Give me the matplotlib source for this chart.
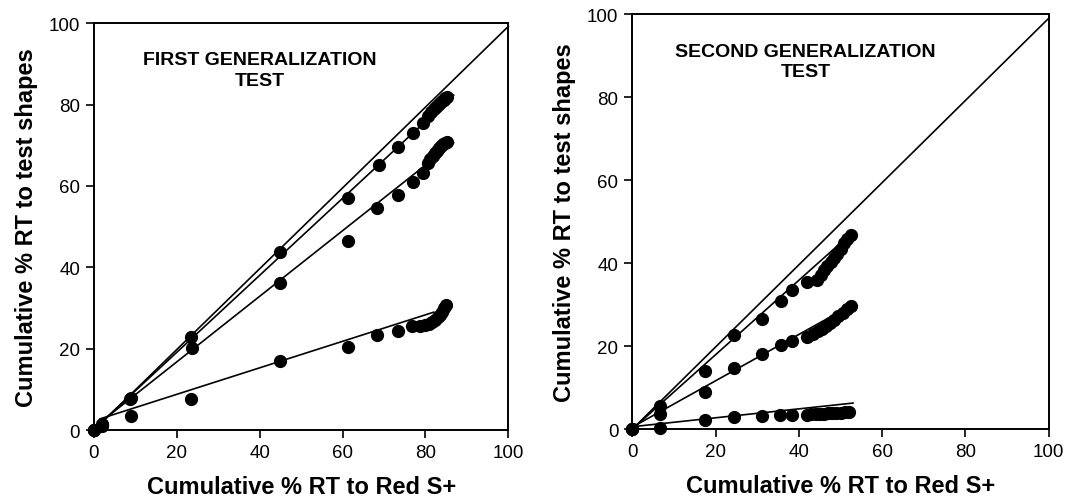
import matplotlib
matplotlib.use("Agg")
import matplotlib.pyplot as plt

plt.rcParams['font.family'] = ['Liberation Sans', 'DejaVu Sans']

# first generalization test (left panel)
x_top1 = [0, 1.9, 8.9, 23.4, 44.9, 61.4, 68.7, 73.3, 76.9, 79.3, 80.6, 81.3, 82.0, 82.6, 83.1, 83.6, 84.0, 84.4, 84.8, 85.2]
y_top1 = [0, 1.5, 8.0, 23.0, 43.8, 57.1, 65.1, 69.6, 72.9, 75.5, 77.3, 78.1, 78.8, 79.4, 79.9, 80.4, 80.8, 81.2, 81.5, 81.8]
x_mid1 = [0, 1.9, 8.7, 23.6, 44.9, 61.4, 68.4, 73.3, 76.9, 79.3, 80.6, 81.2, 81.8, 82.3, 82.8, 83.3, 83.8, 84.3, 84.8, 85.2]
y_mid1 = [0, 1.2, 7.6, 20.3, 36.1, 46.5, 54.7, 57.7, 61.0, 63.1, 65.6, 66.5, 67.3, 68.0, 68.6, 69.2, 69.7, 70.2, 70.6, 70.9]
x_low1 = [0, 1.9, 8.9, 23.4, 44.9, 61.2, 68.3, 73.3, 76.7, 78.6, 79.8, 80.8, 81.6, 82.3, 82.9, 83.5, 84.0, 84.5, 84.9]
y_low1 = [0, 1.0, 3.4, 7.6, 17.0, 20.5, 23.3, 24.4, 25.6, 25.7, 25.9, 26.2, 26.6, 27.1, 27.7, 28.4, 29.1, 29.9, 30.7]

# fitted lines, left panel
diag1_x, diag1_y = [0, 100], [0, 99.2]
fit_top1_x, fit_top1_y = [1.0, 86.8], [1.2, 82.3]
fit_mid1_x, fit_mid1_y = [1.0, 86.8], [1.5, 70.6]
fit_low1_x, fit_low1_y = [1.5, 82.0], [2.8, 29.0]

# second generalization test (right panel)
x_top2 = [0, 6.7, 17.5, 24.4, 31.2, 35.6, 38.4, 42.0, 44.4, 45.4, 46.0, 46.8, 47.6, 48.4, 49.2, 50.0, 50.8, 51.6, 52.4]
y_top2 = [0, 5.5, 14.1, 22.6, 26.6, 30.8, 33.5, 35.5, 35.9, 37.2, 38.3, 39.3, 40.2, 41.2, 42.3, 43.5, 44.8, 45.9, 46.8]
x_mid2 = [0, 6.7, 17.5, 24.4, 31.2, 35.6, 38.4, 42.0, 43.5, 44.5, 45.5, 46.5, 47.5, 48.5, 49.5, 50.5, 51.5, 52.4]
y_mid2 = [0, 3.6, 9.0, 14.7, 18.1, 20.2, 21.2, 22.2, 23.0, 23.6, 24.2, 24.9, 25.6, 26.4, 27.3, 28.1, 29.0, 29.7]
x_low2 = [0, 6.7, 17.5, 24.4, 31.2, 35.4, 38.4, 42.0, 43.0, 44.0, 45.0, 46.0, 47.0, 48.0, 49.0, 50.0, 51.0, 52.0]
y_low2 = [0, 0.4, 2.2, 3.0, 3.2, 3.4, 3.4, 3.5, 3.6, 3.6, 3.7, 3.7, 3.8, 3.8, 3.9, 4.0, 4.1, 4.2]

diag2_x, diag2_y = [0, 100], [0, 99]
fit_top2_x, fit_top2_y = [0, 52.4], [0, 47.0]
fit_mid2_x, fit_mid2_y = [0, 52.5], [0.5, 29.8]
fit_low2_x, fit_low2_y = [0, 53.0], [0.6, 6.3]

ticks = [0, 20, 40, 60, 80, 100]


def draw_panel(ax, series, lines, title, title_x):
    for xs, ys in lines:
        ax.plot(xs, ys, color='black', lw=1.2, clip_on=False)
    for xs, ys in series:
        ax.plot(xs, ys, 'o', color='black', markersize=8.5, clip_on=False)
    ax.set_xlim(0, 100)
    ax.set_ylim(0, 100)
    ax.set_xticks(ticks)
    ax.set_yticks(ticks)
    ax.tick_params(direction='out', length=6, width=1.2, labelsize=13.5, pad=4)
    for s in ax.spines.values():
        s.set_linewidth(1.4)
    ax.text(title_x, 88.5, title, ha='center', va='center', fontsize=14,
            fontweight='bold', linespacing=1.25)
    ax.set_xlabel('Cumulative % RT to Red S+', fontsize=17, fontweight='bold', labelpad=10)
    ax.set_ylabel('Cumulative % RT to test shapes', fontsize=17, fontweight='bold', labelpad=8)


fig = plt.figure(figsize=(10.68, 5.02), dpi=100)
ax1 = fig.add_axes([0.088, 0.141, 0.388, 0.811])
ax2 = fig.add_axes([0.592, 0.143, 0.390, 0.827])

draw_panel(ax1,
           [(x_top1, y_top1), (x_mid1, y_mid1), (x_low1, y_low1)],
           [(diag1_x, diag1_y), (fit_top1_x, fit_top1_y), (fit_mid1_x, fit_mid1_y), (fit_low1_x, fit_low1_y)],
           'FIRST GENERALIZATION\nTEST', 40)
draw_panel(ax2,
           [(x_top2, y_top2), (x_mid2, y_mid2), (x_low2, y_low2)],
           [(diag2_x, diag2_y), (fit_top2_x, fit_top2_y), (fit_mid2_x, fit_mid2_y), (fit_low2_x, fit_low2_y)],
           'SECOND GENERALIZATION\nTEST', 41.6)

fig.savefig('out.png', dpi=100)
